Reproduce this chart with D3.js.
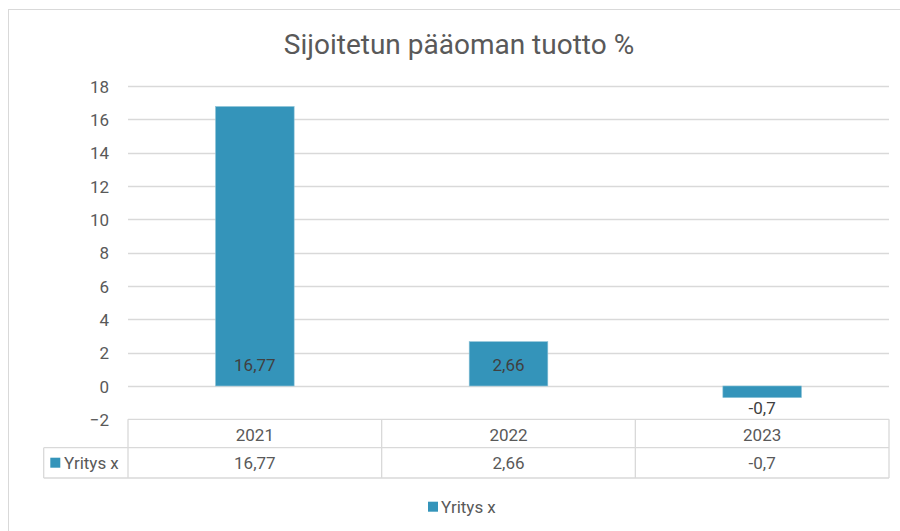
<!DOCTYPE html>
<html>
<head>
<meta charset="utf-8">
<script src="https://cdn.jsdelivr.net/npm/d3@7"></script>
<style>
  body { margin: 0; background: #fff; }
  svg { display: block; font-family: Roboto, "Liberation Sans", sans-serif; }
</style>
</head>
<body>
<div id="chart"></div>
<script>
// Chart data
var years = ["2021", "2022", "2023"];
var values = [16.77, 2.66, -0.7];
var labels = ["16,77", "2,66", "-0,7"];
var seriesName = "Yritys x";
var yTicks = [-2, 0, 2, 4, 6, 8, 10, 12, 14, 16, 18];

var width = 900,
    height = 531;

var svg = d3.select("#chart")
    .append("svg")
    .attr("width", width)
    .attr("height", height);

var barColor = "#3494ba",
    gridColor = "#d9d9d9",
    textColor = "#595959";

// outer chart frame (runs off the right and bottom edges)
svg.append("rect")
    .attr("x", 8.5)
    .attr("y", 9.5)
    .attr("width", 920)
    .attr("height", 540)
    .style("fill", "#fff")
    .style("stroke", "#d9d9d9");

// title
svg.append("text")
    .attr("x", 459)
    .attr("y", 54)
    .attr("text-anchor", "middle")
    .style("font-size", "28px")
    .style("fill", textColor)
    .text("Sijoitetun pääoman tuotto %");

// scales
var x = d3.scaleBand()
    .domain(years)
    .range([128, 889])
    .padding(0);

var y = d3.scaleLinear()
    .domain([-2, 18])
    .range([419.3, 86]);

// gridlines
svg.append("g")
    .selectAll("line")
    .data(yTicks.filter(d => d > -2))
    .enter()
    .append("line")
    .attr("x1", 128)
    .attr("x2", 889)
    .attr("y1", d => Math.round(y(d)) + 0.5)
    .attr("y2", d => Math.round(y(d)) + 0.5)
    .style("stroke", gridColor)
    .style("stroke-width", 1.3);

// y axis labels
var yAxis = d3.axisLeft(y)
    .tickValues(yTicks)
    .tickSize(0)
    .tickPadding(0);

svg.append("g")
    .attr("transform", "translate(109,0)")
    .call(yAxis)
    .call(g => g.select(".domain").remove())
    .selectAll("text")
    .attr("dy", "0.36em")
    .style("font-family", "Roboto, sans-serif")
    .style("font-size", "17px")
    .style("fill", textColor);

// bars
var barW = x.bandwidth() * 0.31;

svg.append("g")
    .selectAll("rect")
    .data(values)
    .enter()
    .append("rect")
    .attr("x", (d, i) => x(years[i]) + (x.bandwidth() - barW) / 2)
    .attr("y", d => y(Math.max(0, d)))
    .attr("width", barW)
    .attr("height", d => Math.abs(y(d) - y(0)))
    .style("fill", barColor)
    .style("stroke", "#8ec3d8")
    .style("stroke-width", 0.6);

// data labels (inside base, or below a negative bar)
svg.append("g")
    .selectAll("text")
    .data(values)
    .enter()
    .append("text")
    .attr("x", (d, i) => x(years[i]) + x.bandwidth() / 2)
    .attr("y", d => d >= 0 ? y(0) - 21 : y(d) + 10.5)
    .attr("dy", "0.36em")
    .attr("text-anchor", "middle")
    .style("font-size", "17px")
    .style("fill", "#404040")
    .text((d, i) => labels[i]);

// data table
var tableTop = y(-2),
    rowH = 28.4,
    row2H = 30.3,
    keyLeft = 43.7;

var table = svg.append("g")
    .style("stroke", gridColor)
    .style("stroke-width", 1.3)
    .style("fill", "none");

// horizontal rules
table.append("line")
    .attr("x1", 128).attr("x2", 889)
    .attr("y1", tableTop).attr("y2", tableTop);
table.append("line")
    .attr("x1", keyLeft).attr("x2", 889)
    .attr("y1", tableTop + rowH).attr("y2", tableTop + rowH);
table.append("line")
    .attr("x1", keyLeft).attr("x2", 889)
    .attr("y1", tableTop + rowH + row2H).attr("y2", tableTop + rowH + row2H);

// vertical rules
var colEdges = years.map(d => x(d)).concat([x.range()[1]]);
table.selectAll(".col")
    .data(colEdges)
    .enter()
    .append("line")
    .attr("x1", d => d).attr("x2", d => d)
    .attr("y1", tableTop).attr("y2", tableTop + rowH + row2H);
table.append("line")
    .attr("x1", keyLeft).attr("x2", keyLeft)
    .attr("y1", tableTop + rowH).attr("y2", tableTop + rowH + row2H);

// table header (years) and values
svg.append("g")
    .selectAll("text")
    .data(years)
    .enter()
    .append("text")
    .attr("x", d => x(d) + x.bandwidth() / 2)
    .attr("y", tableTop + rowH / 2 + 1)
    .attr("dy", "0.36em")
    .attr("text-anchor", "middle")
    .style("font-size", "17px")
    .style("fill", textColor)
    .text(d => d);

svg.append("g")
    .selectAll("text")
    .data(values)
    .enter()
    .append("text")
    .attr("x", (d, i) => x(years[i]) + x.bandwidth() / 2)
    .attr("y", tableTop + rowH + row2H / 2)
    .attr("dy", "0.36em")
    .attr("text-anchor", "middle")
    .style("font-size", "17px")
    .style("fill", textColor)
    .text((d, i) => labels[i]);

// table legend key
svg.append("rect")
    .attr("x", 50.3)
    .attr("y", tableTop + rowH + 10)
    .attr("width", 10)
    .attr("height", 10)
    .style("fill", barColor);
svg.append("text")
    .attr("x", 64)
    .attr("y", tableTop + rowH + row2H / 2)
    .attr("dy", "0.36em")
    .style("font-size", "17px")
    .style("fill", textColor)
    .text(seriesName);

// bottom legend
svg.append("rect")
    .attr("x", 428)
    .attr("y", 501.7)
    .attr("width", 10)
    .attr("height", 10)
    .style("fill", barColor);
svg.append("text")
    .attr("x", 441)
    .attr("y", 507)
    .attr("dy", "0.36em")
    .style("font-size", "17px")
    .style("fill", textColor)
    .text(seriesName);
</script>
</body>
</html>
